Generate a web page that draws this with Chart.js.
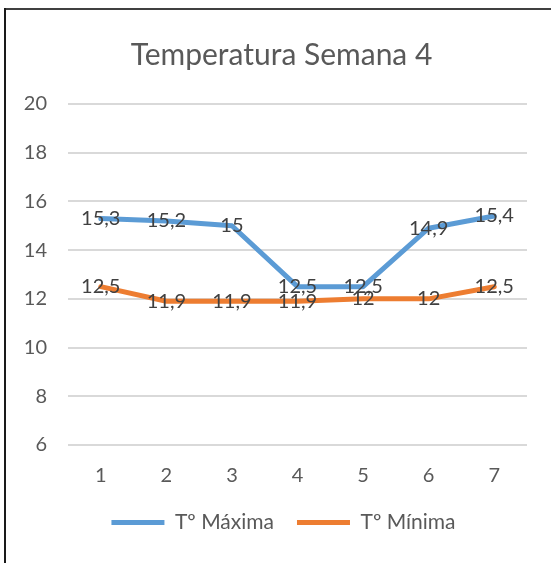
<!DOCTYPE html>
<html>
<head>
<meta charset="utf-8">
<title>Temperatura Semana 4</title>
<script src="https://cdn.jsdelivr.net/npm/chart.js@4/dist/chart.umd.min.js"></script>
<style>
    html, body { margin: 0; padding: 0; background: #fff; }
    canvas { display: block; }
</style>
</head>
<body>
<canvas id="lineChart" width="551" height="563"></canvas>
<script>
// 일별 데이터 (1~7일)
const days = ['1', '2', '3', '4', '5', '6', '7'];
const tempMax = [15.3, 15.2, 15, 12.5, 12.5, 14.9, 15.4];
const tempMin = [12.5, 11.9, 11.9, 11.9, 12, 12, 12.5];
const yTicks = [6, 8, 10, 12, 14, 16, 18, 20];

const FONT = 'Lato, "Open Sans", sans-serif';
const BLUE = '#5B9BD5';
const ORANGE = '#ED7D31';

// 차트 외곽선 (위쪽, 왼쪽)
const frameLines = {
    id: 'frameLines',
    beforeDraw(chart) {
        const ctx = chart.ctx;
        ctx.save();
        ctx.fillStyle = '#ffffff';
        ctx.fillRect(0, 0, chart.width, chart.height);
        ctx.fillStyle = '#404040';
        ctx.fillRect(4, 8, chart.width - 4, 2);
        ctx.fillStyle = '#1a1a1a';
        ctx.fillRect(4, 8, 2, chart.height - 8);
        ctx.restore();
    },
};

// 제목/범례를 플롯 영역 쪽으로 살짝 이동
const shiftBoxes = {
    id: 'shiftBoxes',
    afterLayout(chart) {
        const shift = (box, dx) => {
            if (!box) return;
            box.left += dx;
            box.right += dx;
        };
        shift(chart.titleBlock, 8);
        shift(chart.legend, 10);
    },
};

// 각 점 위에 값 표시 (소수점은 쉼표)
const valueLabels = {
    id: 'valueLabels',
    afterDatasetsDraw(chart) {
        const ctx = chart.ctx;
        ctx.save();
        ctx.font = `20px ${FONT}`;
        ctx.fillStyle = '#404040';
        ctx.textAlign = 'center';
        ctx.textBaseline = 'middle';
        chart.data.datasets.forEach((ds, i) => {
            chart.getDatasetMeta(i).data.forEach((pt, j) => {
                ctx.fillText(String(ds.data[j]).replace('.', ','), pt.x, pt.y);
            });
        });
        ctx.restore();
    },
};

const ctx = document.getElementById('lineChart').getContext('2d');
new Chart(ctx, {
    type: 'line',
    data: {
        labels: days,
        datasets: [
            {
                label: 'Tº Máxima',
                data: tempMax,
                borderColor: BLUE,
                backgroundColor: BLUE,
                borderWidth: 5,
                borderCapStyle: 'round',
                borderJoinStyle: 'round',
                pointRadius: 0,
                pointStyle: 'line',
                tension: 0,
            },
            {
                label: 'Tº Mínima',
                data: tempMin,
                borderColor: ORANGE,
                backgroundColor: ORANGE,
                borderWidth: 5,
                borderCapStyle: 'round',
                borderJoinStyle: 'round',
                pointRadius: 0,
                pointStyle: 'line',
                tension: 0,
            },
        ],
    },
    options: {
        responsive: false,
        animation: false,
        devicePixelRatio: 1,
        layout: {
            padding: { left: 20, right: 24, top: 0, bottom: 20 },
        },
        plugins: {
            title: {
                display: true,
                text: 'Temperatura Semana 4',
                color: '#595959',
                font: { family: FONT, size: 30, weight: 'normal' },
                padding: { top: 37, bottom: 31 },
            },
            legend: {
                position: 'bottom',
                labels: {
                    usePointStyle: true,
                    pointStyleWidth: 53,
                    color: '#595959',
                    font: { family: FONT, size: 21 },
                    padding: 23,
                },
            },
            tooltip: { enabled: false },
        },
        scales: {
            x: {
                offset: true,
                afterFit(scale) {
                    scale.height = 44;
                },
                grid: { display: false },
                border: { display: false },
                ticks: {
                    color: '#595959',
                    font: { family: FONT, size: 20 },
                    padding: 11,
                },
            },
            y: {
                min: yTicks[0],
                max: yTicks[yTicks.length - 1],
                afterFit(scale) {
                    scale.width = 48;
                },
                afterBuildTicks(scale) {
                    scale.ticks = yTicks.map((v) => ({ value: v }));
                },
                grid: { color: '#d9d9d9', lineWidth: 2, drawTicks: false },
                border: { display: false },
                ticks: {
                    color: '#595959',
                    font: { family: FONT, size: 20 },
                    padding: 21,
                },
            },
        },
    },
    plugins: [frameLines, shiftBoxes, valueLabels],
});
</script>
</body>
</html>
